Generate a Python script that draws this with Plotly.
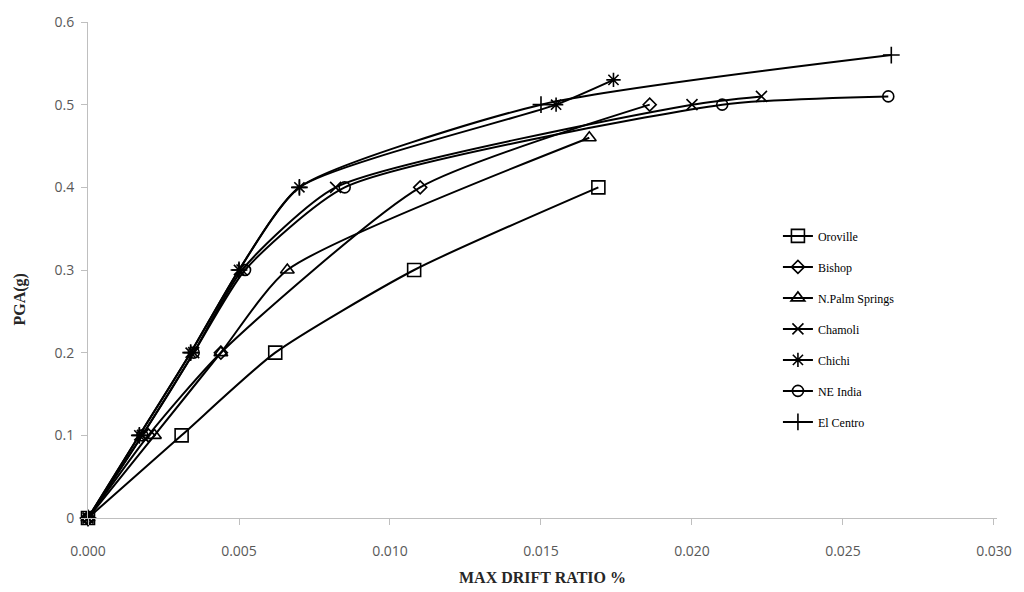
import plotly.graph_objects as go

# Data (x = max drift ratio, y = PGA in g)
oroville_x = [0.0, 0.0031, 0.0062, 0.0108, 0.0169]
oroville_y = [0.0, 0.1, 0.2, 0.3, 0.4]

bishop_x = [0.0, 0.0020, 0.0044, 0.0110, 0.0186]
bishop_y = [0.0, 0.1, 0.2, 0.4, 0.5]

npalm_x = [0.0, 0.0022, 0.0044, 0.0066, 0.0166]
npalm_y = [0.0, 0.1, 0.2, 0.3, 0.46]

chamoli_x = [0.0, 0.0018, 0.0035, 0.0051, 0.0082, 0.0200, 0.0223]
chamoli_y = [0.0, 0.1, 0.2, 0.3, 0.4, 0.5, 0.51]

chichi_x = [0.0, 0.0017, 0.0034, 0.0050, 0.0070, 0.0155, 0.0174]
chichi_y = [0.0, 0.1, 0.2, 0.3, 0.4, 0.5, 0.53]

neindia_x = [0.0, 0.0018, 0.0035, 0.0052, 0.0085, 0.0210, 0.0265]
neindia_y = [0.0, 0.1, 0.2, 0.3, 0.4, 0.5, 0.51]

elcentro_x = [0.0, 0.0017, 0.0034, 0.0050, 0.0070, 0.0150, 0.0266]
elcentro_y = [0.0, 0.1, 0.2, 0.3, 0.4, 0.5, 0.56]

x_ticks = [0.0, 0.005, 0.010, 0.015, 0.020, 0.025, 0.030]
x_tick_labels = ["0.000", "0.005", "0.010", "0.015", "0.020", "0.025", "0.030"]
y_ticks = [0, 0.1, 0.2, 0.3, 0.4, 0.5, 0.6]
y_tick_labels = ["0", "0.1", "0.2", "0.3", "0.4", "0.5", "0.6"]

series = [
    ("Oroville", oroville_x, oroville_y, "square-open", 13),
    ("Bishop", bishop_x, bishop_y, "diamond-open", 10),
    ("N.Palm Springs", npalm_x, npalm_y, "triangle-up-open", 12),
    ("Chamoli", chamoli_x, chamoli_y, "x-thin-open", 11),
    ("Chichi", chichi_x, chichi_y, "asterisk-open", 12),
    ("NE India", neindia_x, neindia_y, "circle-open", 11),
    ("El Centro", elcentro_x, elcentro_y, "cross-thin-open", 12),
]

fig = go.Figure()
for i, (name, xs, ys, sym, sz) in enumerate(series):
    fig.add_trace(go.Scatter(
        x=xs, y=ys, name=name, mode="lines+markers",
        legendgroup=f"g{i}", cliponaxis=False,
        line=dict(color="black", width=2, shape="spline", smoothing=0.6),
        marker=dict(symbol=sym, size=sz, color="black",
                    line=dict(color="black", width=1.6)),
    ))

axis_font = dict(family="Open Sans, sans-serif", size=14, color="#595959")

fig.update_layout(
    width=1024, height=592,
    margin=dict(l=88, r=26, t=20, b=74),
    paper_bgcolor="white", plot_bgcolor="white",
    showlegend=True,
    legend=dict(
        x=0.759, y=0.598, xanchor="left", yanchor="top",
        font=dict(family="Liberation Serif, serif", size=12, color="black"),
        tracegroupgap=12, bgcolor="rgba(0,0,0,0)",
    ),
    xaxis=dict(
        range=[0, 0.0301], tickvals=x_ticks, ticktext=x_tick_labels,
        showgrid=False, zeroline=False, showline=True, linecolor="#bfbfbf",
        linewidth=1, ticks="outside", ticklen=6, tickcolor="#bfbfbf",
        tickfont=axis_font, ticklabelstandoff=14,
    ),
    yaxis=dict(
        range=[0, 0.6], tickvals=y_ticks, ticktext=y_tick_labels,
        showgrid=False, zeroline=False, showline=True, linecolor="#bfbfbf",
        linewidth=1, ticks="outside", ticklen=6, tickcolor="#bfbfbf",
        tickfont=axis_font, ticklabelstandoff=4,
    ),
    annotations=[
        dict(text="<b>MAX DRIFT RATIO %</b>", xref="paper", yref="paper",
             x=0.5, y=-0.12, xanchor="center", yanchor="middle", showarrow=False,
             font=dict(family="Liberation Serif, serif", size=16, color="#262626")),
        dict(text="<b>PGA(g)</b>", xref="paper", yref="paper",
             x=-0.075, y=0.44, xanchor="center", yanchor="middle", showarrow=False,
             textangle=-90,
             font=dict(family="Liberation Serif, serif", size=16, color="#262626")),
    ],
)

fig.write_html("out.html")
